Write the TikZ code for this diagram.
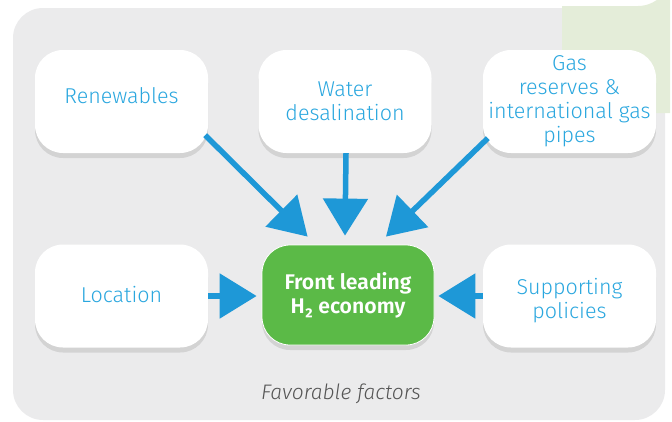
\documentclass[tikz,border=0pt]{standalone}
\usepackage{fontspec}
\setmainfont{Fira Sans}[UprightFont=* Light, ItalicFont=* Light Italic, BoldFont=* SemiBold]
\usetikzlibrary{arrows.meta,shadows,calc}
\definecolor{bgGrey}{HTML}{EBEBEC}
\definecolor{paleGreen}{HTML}{E4EDD9}
\definecolor{txtBlue}{HTML}{2AA7DF}
\definecolor{arrBlue}{HTML}{1E98D7}
\definecolor{hGreen}{HTML}{5BBA47}
\definecolor{capGrey}{HTML}{555555}
\tikzset{
  ftext/.style={align=center, text=txtBlue, font=\fontsize{21.5}{24}\selectfont, inner sep=0pt},
  factor/.style={ftext, fill=white, rounded corners=28pt, minimum width=173pt, minimum height=103pt,
    drop shadow={shadow xshift=0pt, shadow yshift=-5pt, opacity=0.10, fill=black}},
  goal/.style={fill=hGreen, draw=white, line width=0.8pt, rounded corners=28pt, minimum width=172pt, minimum height=100pt,
    align=center, text=white, font=\fontsize{21.2}{24}\selectfont\bfseries, inner sep=0pt,
    drop shadow={shadow xshift=0pt, shadow yshift=-5pt, opacity=0.10, fill=black}},
  feed/.style={draw=arrBlue, line width=5.5pt, -{Triangle[length=37pt,width=44pt]}}
}
\begin{document}
\begin{tikzpicture}[x=1pt,y=-1pt]
\useasboundingbox (0,0) rectangle (672,421);
\fill[bgGrey] (13,8) [rounded corners=30pt] rectangle (665,420);
\fill[paleGreen] (562,6) -- (638,6) arc[start angle=90, end angle=0, radius=32] -- (670,113) -- (562,113) -- cycle;

\node[factor] (ren) at (121.5,101.5) {\raisebox{11pt}{Renewables}};
\node[factor] (wat) at (345,101.5) {Water\\desalination};
\node[factor] (gas) at (569.5,101.5) {Gas\\reserves \&\\international gas\\pipes};
\node[factor] (loc) at (121.5,296) {\raisebox{4pt}{Location}};
\node[factor, label={[ftext, yshift=-5pt]center:{Supporting\\policies}}] (sup) at (569.5,296) {};
\node[goal] (h2) at (348,295) {Front leading\\H₂ economy};

\draw[feed] ($(ren.south east)+(-3,-18)$) -- ($(h2.north west)+(46,-8)$);
\draw[feed] ($(wat.south)+(1,0)$) -- ($(h2.north)+(-3,-9)$);
\draw[feed] ($(gas.south west)+(5,-15)$) -- ($(h2.north)+(38,-8)$);
\draw[feed] (loc.east) -- ($(h2.west)+(-5,1)$);
\draw[feed] (sup.west) -- ($(h2.east)+(4,1)$);

\node[text=capGrey, font=\fontsize{21}{24}\selectfont\itshape] (cap) at (341,394) {Favorable factors};
\end{tikzpicture}
\end{document}
